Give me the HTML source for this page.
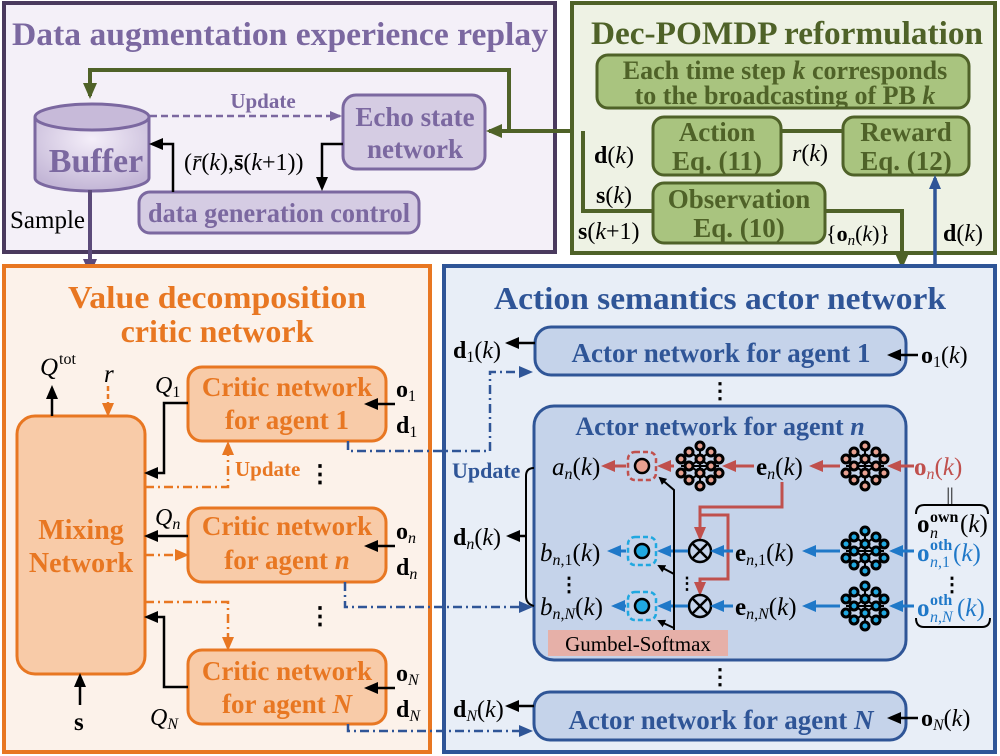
<!DOCTYPE html>
<html><head><meta charset="utf-8"><style>
html,body{margin:0;padding:0;background:#fff}
svg{display:block}
text{font-family:"Liberation Serif",serif}
.b{font-weight:bold}
.i{font-style:italic}
</style></head><body>
<svg width="1000" height="756" viewBox="0 0 1000 756" xmlns="http://www.w3.org/2000/svg">
<defs>
<marker id="ak" markerWidth="8" markerHeight="8" refX="6" refY="4" orient="auto" markerUnits="userSpaceOnUse"><path d="M0,0 L8,4 L0,8 z" fill="#000"/></marker>
<marker id="ag" markerWidth="16" markerHeight="14" refX="13" refY="7" orient="auto" markerUnits="userSpaceOnUse"><path d="M0,0 L16,7 L0,14 z" fill="#4f6228"/></marker>
<marker id="ap" markerWidth="16" markerHeight="14" refX="13" refY="7" orient="auto" markerUnits="userSpaceOnUse"><path d="M0,0 L16,7 L0,14 z" fill="#5b4a7a"/></marker>
<marker id="apd" markerWidth="12" markerHeight="10" refX="10" refY="5" orient="auto" markerUnits="userSpaceOnUse"><path d="M0,0 L12,5 L0,10 z" fill="#7b68a0"/></marker>
<marker id="ab" markerWidth="14" markerHeight="12" refX="11" refY="6" orient="auto" markerUnits="userSpaceOnUse"><path d="M0,0 L14,6 L0,12 z" fill="#2f5597"/></marker>
<marker id="ao" markerWidth="14" markerHeight="12" refX="11" refY="6" orient="auto" markerUnits="userSpaceOnUse"><path d="M0,0 L14,6 L0,12 z" fill="#e87722"/></marker>
<marker id="ar" markerWidth="14" markerHeight="12" refX="11" refY="6" orient="auto" markerUnits="userSpaceOnUse"><path d="M0,0 L14,6 L0,12 z" fill="#c0504d"/></marker>
<marker id="al" markerWidth="14" markerHeight="12" refX="11" refY="6" orient="auto" markerUnits="userSpaceOnUse"><path d="M0,0 L14,6 L0,12 z" fill="#1f78c8"/></marker>
<marker id="akb" markerWidth="14" markerHeight="12" refX="11" refY="6" orient="auto" markerUnits="userSpaceOnUse"><path d="M0,0 L14,6 L0,12 z" fill="#000"/></marker>
<radialGradient id="cyl" cx="0.5" cy="0.3" r="0.7"><stop offset="0" stop-color="#f4eef9"/><stop offset="1" stop-color="#c3b6d6"/></radialGradient>
<g id="nnp">
 <g stroke="#000" stroke-width="2">
 <line x1="-10" y1="-14" x2="10" y2="0"/><line x1="-10" y1="14" x2="10" y2="0"/><line x1="-10" y1="0" x2="10" y2="-14"/><line x1="-10" y1="0" x2="10" y2="14"/>
 <line x1="0" y1="-20" x2="0" y2="20"/><line x1="-19" y1="0" x2="19" y2="0"/>
 </g>
 <g stroke="#000" stroke-width="3" fill="#e8a090">
 <circle cx="0" cy="-20" r="4"/><circle cx="0" cy="-7" r="4"/><circle cx="0" cy="7" r="4"/><circle cx="0" cy="20" r="4"/>
 <circle cx="-11" cy="-14" r="4"/><circle cx="-11" cy="0" r="4"/><circle cx="-11" cy="14" r="4"/>
 <circle cx="11" cy="-14" r="4"/><circle cx="11" cy="0" r="4"/><circle cx="11" cy="14" r="4"/>
 <circle cx="-19" cy="-7" r="4"/><circle cx="-19" cy="7" r="4"/><circle cx="19" cy="-7" r="4"/><circle cx="19" cy="7" r="4"/>
 </g>
</g>
<g id="nnb">
 <g stroke="#000" stroke-width="2">
 <line x1="-10" y1="-14" x2="10" y2="0"/><line x1="-10" y1="14" x2="10" y2="0"/><line x1="-10" y1="0" x2="10" y2="-14"/><line x1="-10" y1="0" x2="10" y2="14"/>
 <line x1="0" y1="-20" x2="0" y2="20"/><line x1="-19" y1="0" x2="19" y2="0"/>
 </g>
 <g stroke="#000" stroke-width="3" fill="#20a8e0">
 <circle cx="0" cy="-20" r="4"/><circle cx="0" cy="-7" r="4"/><circle cx="0" cy="7" r="4"/><circle cx="0" cy="20" r="4"/>
 <circle cx="-11" cy="-14" r="4"/><circle cx="-11" cy="0" r="4"/><circle cx="-11" cy="14" r="4"/>
 <circle cx="11" cy="-14" r="4"/><circle cx="11" cy="0" r="4"/><circle cx="11" cy="14" r="4"/>
 <circle cx="-19" cy="-7" r="4"/><circle cx="-19" cy="7" r="4"/><circle cx="19" cy="-7" r="4"/><circle cx="19" cy="7" r="4"/>
 </g>
</g>
</defs>

<!-- Purple panel -->
<rect x="4" y="3" width="551" height="249" fill="#f4f0f8" stroke="#4a3a5e" stroke-width="4"/>
<text x="280" y="45" text-anchor="middle" class="b" font-size="33" fill="#7b68a0" textLength="536" lengthAdjust="spacingAndGlyphs">Data augmentation experience replay</text>
<path d="M35,117 L35,178 A57,13 0 0 0 149,178 L149,117" fill="url(#cyl)" stroke="#7b68a0" stroke-width="3"/>
<ellipse cx="92" cy="117" rx="57" ry="13" fill="#c7bad9" stroke="#7b68a0" stroke-width="3"/>
<text x="96" y="172" text-anchor="middle" class="b" font-size="34" fill="#7b68a0">Buffer</text>
<line x1="150" y1="116" x2="340" y2="116" stroke="#7b68a0" stroke-width="2.5" stroke-dasharray="7,4" marker-end="url(#apd)"/>
<text x="263" y="108" text-anchor="middle" class="b" font-size="21" fill="#7b68a0">Update</text>
<rect x="343" y="95" width="142" height="74" rx="13" fill="#d5cce3" stroke="#7b68a0" stroke-width="3"/>
<text x="415" y="126" text-anchor="middle" class="b" font-size="27" fill="#7b68a0">Echo state</text>
<text x="415" y="158" text-anchor="middle" class="b" font-size="27" fill="#7b68a0">network</text>
<rect x="139" y="192" width="280" height="41" rx="11" fill="#d5cce3" stroke="#7b68a0" stroke-width="3"/>
<text x="279" y="222" text-anchor="middle" class="b" font-size="27" fill="#7b68a0" textLength="262" lengthAdjust="spacingAndGlyphs">data generation control</text>
<polyline points="173,192 173,144 152,144" fill="none" stroke="#000" stroke-width="2.5" marker-end="url(#akb)"/>
<polyline points="343,144 322,144 322,188" fill="none" stroke="#000" stroke-width="2.5" marker-end="url(#akb)"/>
<text x="184" y="170" font-size="24" fill="#000">(<tspan class="i">r̄</tspan>(<tspan class="i">k</tspan>),<tspan class="b">s̄</tspan>(<tspan class="i">k</tspan>+1))</text>
<text x="10" y="228" font-size="25" fill="#000">Sample</text>
<line x1="90" y1="190" x2="90" y2="272" stroke="#5b4a7a" stroke-width="4" marker-end="url(#ap)"/>
<polyline points="652,131 509,131 509,70 90,70 90,96" fill="none" stroke="#4f6228" stroke-width="4" marker-end="url(#ag)"/>
<line x1="509" y1="131" x2="489" y2="131" stroke="#4f6228" stroke-width="4" marker-end="url(#ag)"/>

<!-- Green panel -->
<rect x="572" y="3" width="423" height="250" fill="#eef2e4" stroke="#4f6228" stroke-width="4"/>
<line x1="556" y1="131" x2="572" y2="131" stroke="#4f6228" stroke-width="4"/>
<text x="787" y="44" text-anchor="middle" class="b" font-size="33" fill="#4f6228" textLength="392" lengthAdjust="spacingAndGlyphs">Dec-POMDP reformulation</text>
<rect x="597" y="55" width="372" height="53" rx="11" fill="#a9c47f" stroke="#4f6228" stroke-width="3"/>
<text x="785" y="79" text-anchor="middle" class="b" font-size="26" fill="#4f6228">Each time step <tspan class="i">k</tspan> corresponds</text>
<text x="785" y="104" text-anchor="middle" class="b" font-size="26" fill="#4f6228">to the broadcasting of PB <tspan class="i">k</tspan></text>
<rect x="653" y="117" width="128" height="58" rx="11" fill="#a9c47f" stroke="#4f6228" stroke-width="3"/>
<text x="717" y="141" text-anchor="middle" class="b" font-size="27" fill="#4f6228">Action</text>
<text x="717" y="170" text-anchor="middle" class="b" font-size="27" fill="#4f6228">Eq. (11)</text>
<rect x="843" y="117" width="126" height="58" rx="11" fill="#a9c47f" stroke="#4f6228" stroke-width="3"/>
<text x="906" y="141" text-anchor="middle" class="b" font-size="27" fill="#4f6228">Reward</text>
<text x="906" y="170" text-anchor="middle" class="b" font-size="27" fill="#4f6228">Eq. (12)</text>
<rect x="653" y="183" width="172" height="60" rx="11" fill="#a9c47f" stroke="#4f6228" stroke-width="3"/>
<text x="739" y="208" text-anchor="middle" class="b" font-size="27" fill="#4f6228">Observation</text>
<text x="739" y="237" text-anchor="middle" class="b" font-size="27" fill="#4f6228">Eq. (10)</text>
<line x1="781" y1="131" x2="843" y2="131" stroke="#4f6228" stroke-width="4"/>
<polyline points="583,131 583,211 653,211" fill="none" stroke="#4f6228" stroke-width="4"/>
<polyline points="825,211 902,211 902,266" fill="none" stroke="#4f6228" stroke-width="4" marker-end="url(#ag)"/>
<text x="594" y="163" font-size="24"><tspan class="b">d</tspan>(<tspan class="i">k</tspan>)</text>
<text x="596" y="203" font-size="24"><tspan class="b">s</tspan>(<tspan class="i">k</tspan>)</text>
<text x="578" y="239" font-size="24"><tspan class="b">s</tspan>(<tspan class="i">k</tspan>+1)</text>
<text x="792" y="161" font-size="24"><tspan class="i">r</tspan>(<tspan class="i">k</tspan>)</text>
<text x="826" y="241" font-size="22">{<tspan class="b">o</tspan><tspan class="i" font-size="15" dy="4">n</tspan><tspan dy="-4">(</tspan><tspan class="i">k</tspan>)}</text>
<text x="943" y="241" font-size="24"><tspan class="b">d</tspan>(<tspan class="i">k</tspan>)</text>

<!-- Orange panel -->
<rect x="4" y="266" width="426" height="486" fill="#fcf2ea" stroke="#e87722" stroke-width="4"/>
<text x="217" y="308" text-anchor="middle" class="b" font-size="32" fill="#e87722" textLength="298" lengthAdjust="spacingAndGlyphs">Value decomposition</text>
<text x="217" y="342" text-anchor="middle" class="b" font-size="32" fill="#e87722">critic network</text>
<rect x="17" y="416" width="128" height="258" rx="18" fill="#f8cba8" stroke="#e87722" stroke-width="3"/>
<text x="81" y="539" text-anchor="middle" class="b" font-size="28" fill="#e87722">Mixing</text>
<text x="81" y="572" text-anchor="middle" class="b" font-size="28" fill="#e87722">Network</text>
<rect x="188" y="367" width="198" height="74" rx="14" fill="#f8cba8" stroke="#e87722" stroke-width="3"/>
<text x="287" y="396" text-anchor="middle" class="b" font-size="27" fill="#e87722">Critic network</text>
<text x="287" y="429" text-anchor="middle" class="b" font-size="27" fill="#e87722">for agent 1</text>
<rect x="188" y="508" width="198" height="74" rx="14" fill="#f8cba8" stroke="#e87722" stroke-width="3"/>
<text x="287" y="535" text-anchor="middle" class="b" font-size="27" fill="#e87722">Critic network</text>
<text x="287" y="569" text-anchor="middle" class="b" font-size="27" fill="#e87722">for agent <tspan class="i">n</tspan></text>
<rect x="188" y="650" width="198" height="74" rx="14" fill="#f8cba8" stroke="#e87722" stroke-width="3"/>
<text x="287" y="680" text-anchor="middle" class="b" font-size="27" fill="#e87722">Critic network</text>
<text x="287" y="713" text-anchor="middle" class="b" font-size="27" fill="#e87722">for agent <tspan class="i">N</tspan></text>
<line x1="52" y1="416" x2="52" y2="388" stroke="#000" stroke-width="2.5" marker-end="url(#akb)"/>
<text x="40" y="375" font-size="25" class="i">Q</text>
<text x="59" y="364" font-size="16">tot</text>
<text x="104" y="382" font-size="25" class="i">r</text>
<line x1="108" y1="386" x2="108" y2="414" stroke="#e87722" stroke-width="2.5" stroke-dasharray="5,3" marker-end="url(#ao)"/>
<text x="155" y="393" font-size="24" class="i">Q<tspan font-size="16" font-style="normal" dy="4">1</tspan></text>
<polyline points="188,403 164,403 164,473 147,473" fill="none" stroke="#000" stroke-width="2.5" marker-end="url(#akb)"/>
<polyline points="145,487 228,487 228,444" fill="none" stroke="#e87722" stroke-width="2.5" stroke-dasharray="9,4,2,4" marker-end="url(#ao)"/>
<text x="235" y="476" class="b" font-size="21" fill="#e87722">Update</text>
<text x="320" y="482" font-size="24" text-anchor="middle" class="b">⋮</text>
<text x="155" y="525" font-size="24" class="i">Q<tspan font-size="16" dy="4">n</tspan></text>
<line x1="188" y1="536" x2="147" y2="536" stroke="#000" stroke-width="2.5" marker-end="url(#akb)"/>
<line x1="145" y1="555" x2="186" y2="555" stroke="#e87722" stroke-width="2.5" stroke-dasharray="9,4,2,4" marker-end="url(#ao)"/>
<polyline points="145,602 228,602 228,648" fill="none" stroke="#e87722" stroke-width="2.5" stroke-dasharray="9,4,2,4" marker-end="url(#ao)"/>
<text x="320" y="624" font-size="24" text-anchor="middle" class="b">⋮</text>
<polyline points="188,687 164,687 164,617 147,617" fill="none" stroke="#000" stroke-width="2.5" marker-end="url(#akb)"/>
<text x="150" y="725" font-size="24" class="i">Q<tspan font-size="16" dy="4">N</tspan></text>
<line x1="80" y1="705" x2="80" y2="676" stroke="#000" stroke-width="2.5" marker-end="url(#akb)"/>
<text x="74" y="730" font-size="25" class="b">s</text>
<line x1="395" y1="404" x2="367" y2="404" stroke="#000" stroke-width="2.5" marker-end="url(#akb)"/>
<text x="396" y="397" font-size="24" class="b">o<tspan font-size="16" font-weight="normal" dy="4">1</tspan></text>
<text x="396" y="433" font-size="24" class="b">d<tspan font-size="16" font-weight="normal" dy="4">1</tspan></text>
<line x1="395" y1="546" x2="367" y2="546" stroke="#000" stroke-width="2.5" marker-end="url(#akb)"/>
<text x="396" y="539" font-size="24" class="b">o<tspan font-size="16" font-weight="normal" font-style="italic" dy="4">n</tspan></text>
<text x="396" y="575" font-size="24" class="b">d<tspan font-size="16" font-weight="normal" font-style="italic" dy="4">n</tspan></text>
<line x1="395" y1="688" x2="367" y2="688" stroke="#000" stroke-width="2.5" marker-end="url(#akb)"/>
<text x="396" y="681" font-size="24" class="b">o<tspan font-size="16" font-weight="normal" font-style="italic" dy="4">N</tspan></text>
<text x="396" y="717" font-size="24" class="b">d<tspan font-size="16" font-weight="normal" font-style="italic" dy="4">N</tspan></text>

<!-- Blue panel -->
<rect x="444" y="266" width="551" height="486" fill="#e8eef7" stroke="#2f5597" stroke-width="4"/>
<line x1="935" y1="266" x2="935" y2="178" stroke="#2f5597" stroke-width="3.5" marker-end="url(#ab)"/>
<text x="720" y="309" text-anchor="middle" class="b" font-size="32" fill="#2f5597" textLength="452" lengthAdjust="spacingAndGlyphs">Action semantics actor network</text>
<rect x="535" y="327" width="371" height="48" rx="16" fill="#c5d3ea" stroke="#2f5597" stroke-width="3"/>
<text x="721" y="362" text-anchor="middle" class="b" font-size="27" fill="#2f5597">Actor network for agent 1</text>
<line x1="535" y1="343" x2="508" y2="343" stroke="#000" stroke-width="2.5" marker-end="url(#akb)"/>
<text x="453" y="358" font-size="24"><tspan class="b">d</tspan><tspan font-size="16" dy="4">1</tspan><tspan dy="-4">(</tspan><tspan class="i">k</tspan>)</text>
<line x1="918" y1="355" x2="890" y2="355" stroke="#000" stroke-width="2.5" marker-end="url(#akb)"/>
<text x="921" y="363" font-size="24"><tspan class="b">o</tspan><tspan font-size="16" dy="4">1</tspan><tspan dy="-4">(</tspan><tspan class="i">k</tspan>)</text>
<text x="720" y="398" font-size="22" text-anchor="middle" class="b">⋮</text>
<rect x="534" y="406" width="372" height="254" rx="20" fill="#c5d3ea" stroke="#2f5597" stroke-width="3"/>
<text x="720" y="435" text-anchor="middle" class="b" font-size="26" fill="#2f5597">Actor network for agent <tspan class="i">n</tspan></text>
<polyline points="348,441 348,451 490,451 490,372 530,372" fill="none" stroke="#2f5597" stroke-width="2.5" stroke-dasharray="9,4,2,4" marker-end="url(#ab)"/>
<polyline points="345,582 345,607 530,607" fill="none" stroke="#2f5597" stroke-width="2.5" stroke-dasharray="9,4,2,4" marker-end="url(#ab)"/>
<polyline points="348,724 348,731 530,731" fill="none" stroke="#2f5597" stroke-width="2.5" stroke-dasharray="9,4,2,4" marker-end="url(#ab)"/>
<text x="452" y="478" class="b" font-size="22" fill="#2f5597">Update</text>
<path d="M534,468 Q526,468 526,476 L526,596 Q526,604 534,606" fill="none" stroke="#000" stroke-width="2"/>
<line x1="526" y1="536" x2="509" y2="536" stroke="#000" stroke-width="2.5" marker-end="url(#akb)"/>
<text x="453" y="545" font-size="24"><tspan class="b">d</tspan><tspan font-size="16" font-style="italic" dy="4">n</tspan><tspan dy="-4">(</tspan><tspan class="i">k</tspan>)</text>
<text x="552" y="475" font-size="25"><tspan class="i">a</tspan><tspan font-size="16" class="i" dy="4">n</tspan><tspan dy="-4">(</tspan><tspan class="i">k</tspan>)</text>
<rect x="628" y="452" width="28" height="28" rx="7" fill="none" stroke="#c0504d" stroke-width="2.5" stroke-dasharray="5,3"/>
<circle cx="642" cy="466" r="7" fill="#e8a090" stroke="#000" stroke-width="2.5"/>
<use href="#nnp" x="700" y="466"/>
<text x="756" y="475" font-size="25"><tspan class="b">e</tspan><tspan font-size="16" class="i" dy="4">n</tspan><tspan dy="-4">(</tspan><tspan class="i">k</tspan>)</text>
<use href="#nnp" x="865" y="466"/>
<text x="914" y="475" font-size="25" fill="#c0504d"><tspan class="b">o</tspan><tspan font-size="16" class="i" dy="4">n</tspan><tspan dy="-4">(</tspan><tspan class="i">k</tspan>)</text>
<g stroke="#c0504d" stroke-width="3" fill="none">
<line x1="914" y1="466" x2="890" y2="466" marker-end="url(#ar)"/>
<line x1="840" y1="466" x2="812" y2="466" marker-end="url(#ar)"/>
<line x1="754" y1="466" x2="725" y2="466" marker-end="url(#ar)"/>
<line x1="674" y1="466" x2="660" y2="466" marker-end="url(#ar)"/>
<line x1="626" y1="466" x2="604" y2="466" marker-end="url(#ar)"/>
<polyline points="782,482 782,507 700,507 700,538" marker-end="url(#ar)"/>
<polyline points="700,515 728,515 728,579 700,579 700,593" marker-end="url(#ar)"/>
</g>
<text x="950" y="500" font-size="18" text-anchor="middle">||</text>
<path d="M916,514 Q916,505 924,505 L980,505 Q988,505 988,514" fill="none" stroke="#000" stroke-width="2"/>
<text x="917" y="532" font-size="25" class="b">o</text>
<text x="930" y="538" font-size="16" class="i">n</text>
<text x="930" y="522" font-size="16" class="b">own</text>
<text x="960" y="532" font-size="25">(<tspan class="i">k</tspan>)</text>
<text x="540" y="561" font-size="25"><tspan class="i">b</tspan><tspan font-size="16" dy="4"><tspan class="i">n</tspan>,1</tspan><tspan dy="-4">(</tspan><tspan class="i">k</tspan>)</text>
<rect x="628" y="537" width="28" height="28" rx="7" fill="none" stroke="#20a8e0" stroke-width="2.5" stroke-dasharray="5,3"/>
<circle cx="642" cy="551" r="7" fill="#20a8e0" stroke="#000" stroke-width="2.5"/>
<circle cx="700" cy="551" r="11" fill="none" stroke="#000" stroke-width="2.5"/>
<path d="M692,543 L708,559 M708,543 L692,559" stroke="#000" stroke-width="2.5"/>
<text x="735" y="561" font-size="25"><tspan class="b">e</tspan><tspan font-size="16" dy="4"><tspan class="i">n</tspan>,1</tspan><tspan dy="-4">(</tspan><tspan class="i">k</tspan>)</text>
<use href="#nnb" x="865" y="551"/>
<g fill="#1f78c8">
<text x="917" y="561" font-size="25" class="b">o</text>
<text x="930" y="567" font-size="16"><tspan class="i">n</tspan>,1</text>
<text x="930" y="550" font-size="16" class="b">oth</text>
<text x="953" y="561" font-size="25">(<tspan class="i">k</tspan>)</text>
</g>
<text x="540" y="615" font-size="25"><tspan class="i">b</tspan><tspan font-size="16" dy="4"><tspan class="i">n</tspan>,<tspan class="i">N</tspan></tspan><tspan dy="-4">(</tspan><tspan class="i">k</tspan>)</text>
<rect x="628" y="592" width="28" height="28" rx="7" fill="none" stroke="#20a8e0" stroke-width="2.5" stroke-dasharray="5,3"/>
<circle cx="642" cy="606" r="7" fill="#20a8e0" stroke="#000" stroke-width="2.5"/>
<circle cx="700" cy="606" r="11" fill="none" stroke="#000" stroke-width="2.5"/>
<path d="M692,598 L708,614 M708,598 L692,614" stroke="#000" stroke-width="2.5"/>
<text x="735" y="615" font-size="25"><tspan class="b">e</tspan><tspan font-size="16" dy="4"><tspan class="i">n</tspan>,<tspan class="i">N</tspan></tspan><tspan dy="-4">(</tspan><tspan class="i">k</tspan>)</text>
<use href="#nnb" x="865" y="606"/>
<g fill="#1f78c8">
<text x="917" y="616" font-size="25" class="b">o</text>
<text x="930" y="622" font-size="16"><tspan class="i">n</tspan>,<tspan class="i">N</tspan></text>
<text x="930" y="605" font-size="16" class="b">oth</text>
<text x="957" y="616" font-size="25">(<tspan class="i">k</tspan>)</text>
</g>
<path d="M916,618 Q916,627 924,627 L982,627 Q990,627 990,618" fill="none" stroke="#000" stroke-width="2"/>
<text x="952" y="591" font-size="20" text-anchor="middle" class="b">⋮</text>
<text x="569" y="591" font-size="20" text-anchor="middle" class="b">⋮</text>
<text x="687" y="589" font-size="17" text-anchor="middle" class="b">⋮</text>
<g stroke="#1f78c8" stroke-width="3" fill="none">
<line x1="914" y1="551" x2="892" y2="551" marker-end="url(#al)"/>
<line x1="840" y1="551" x2="805" y2="551" marker-end="url(#al)"/>
<line x1="733" y1="551" x2="713" y2="551" marker-end="url(#al)"/>
<line x1="688" y1="551" x2="660" y2="551" marker-end="url(#al)"/>
<line x1="626" y1="551" x2="610" y2="551" marker-end="url(#al)"/>
<line x1="914" y1="606" x2="892" y2="606" marker-end="url(#al)"/>
<line x1="840" y1="606" x2="805" y2="606" marker-end="url(#al)"/>
<line x1="733" y1="606" x2="713" y2="606" marker-end="url(#al)"/>
<line x1="688" y1="606" x2="660" y2="606" marker-end="url(#al)"/>
<line x1="626" y1="606" x2="614" y2="606" marker-end="url(#al)"/>
</g>
<rect x="548" y="630" width="180" height="26" fill="#e6b0a8"/>
<text x="638" y="651" text-anchor="middle" font-size="21">Gumbel-Softmax</text>
<g stroke="#000" stroke-width="2" fill="none">
<polyline points="674,630 674,490 660,478" marker-end="url(#ak)"/>
<line x1="674" y1="574" x2="659" y2="566" marker-end="url(#ak)"/>
<line x1="674" y1="628" x2="659" y2="621" marker-end="url(#ak)"/>
</g>
<text x="720" y="684" font-size="22" text-anchor="middle" class="b">⋮</text>
<rect x="534" y="692" width="372" height="48" rx="16" fill="#c5d3ea" stroke="#2f5597" stroke-width="3"/>
<text x="721" y="729" text-anchor="middle" class="b" font-size="27" fill="#2f5597">Actor network for agent <tspan class="i">N</tspan></text>
<line x1="534" y1="706" x2="508" y2="706" stroke="#000" stroke-width="2.5" marker-end="url(#akb)"/>
<text x="453" y="717" font-size="24"><tspan class="b">d</tspan><tspan font-size="16" class="i" dy="4">N</tspan><tspan dy="-4">(</tspan><tspan class="i">k</tspan>)</text>
<line x1="918" y1="718" x2="890" y2="718" stroke="#000" stroke-width="2.5" marker-end="url(#akb)"/>
<text x="921" y="726" font-size="24"><tspan class="b">o</tspan><tspan font-size="16" class="i" dy="4">N</tspan><tspan dy="-4">(</tspan><tspan class="i">k</tspan>)</text>
</svg>
</body></html>
